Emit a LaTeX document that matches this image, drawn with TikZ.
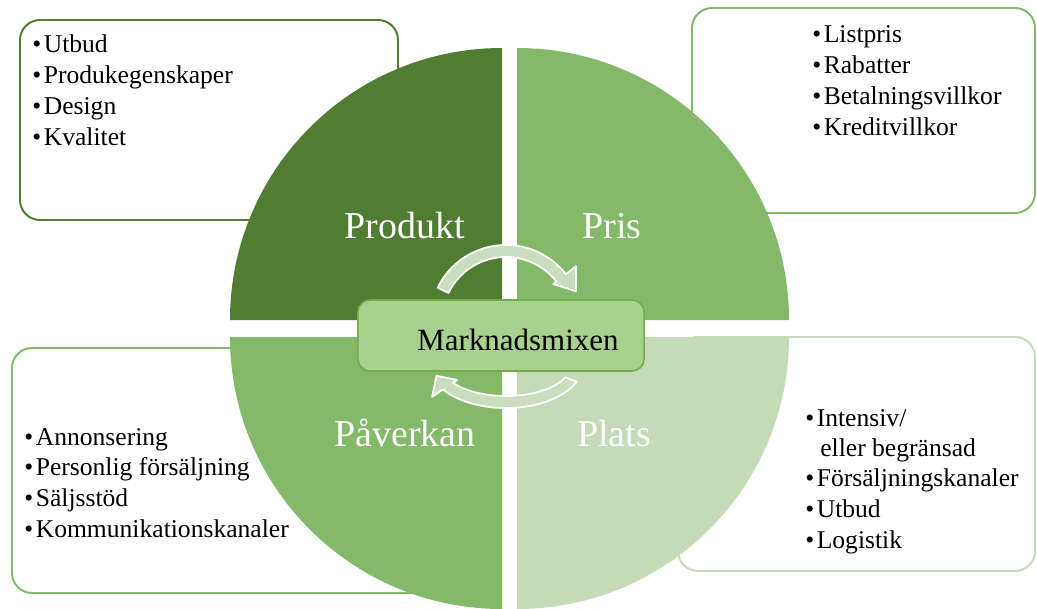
\documentclass[tikz,border=0pt]{standalone}
\usepackage{fontspec}
\setmainfont{Liberation Serif}
\usepackage{tikz}

\definecolor{prodgreen}{HTML}{507D32}
\definecolor{prisgreen}{HTML}{84B96A}
\definecolor{platsgreen}{HTML}{C5DBB8}
\definecolor{mixfill}{HTML}{A9D18E}
\definecolor{mixline}{HTML}{70AD47}
\definecolor{arrowfill}{HTML}{C8DEBC}

\newcommand{\bl}{\textbullet\hspace{0.1em}}

\begin{document}
\begin{tikzpicture}[x=0.025cm, y=0.025cm,
    listbox/.style={line width=1.4pt, rounded corners=0.5cm},
    item/.style={anchor=base west, inner sep=0pt, font=\fontsize{18.2}{21}\selectfont},
    quadlabel/.style={anchor=base, text=white, inner sep=0pt, font=\fontsize{27}{32}\selectfont},
    cyclearrow/.style={fill=arrowfill, draw=white, line width=1.3pt, line join=round}]
    \useasboundingbox (0,0) rectangle (1037,608);

    % List boxes, partly hidden by the circle
    \draw[listbox, draw=prodgreen] (20,388) rectangle (398,588);
    \draw[listbox, draw=prisgreen] (692,395) rectangle (1035,600);
    \draw[listbox, draw=prisgreen] (12,15) rectangle (440,260);
    \draw[listbox, draw=platsgreen] (678,37) rectangle (1035,271);

    % Four quarters of the circle
    \fill[prodgreen] (502,288) -- ++(-272,0) arc[start angle=180, end angle=90, radius=272] -- cycle;
    \fill[prisgreen] (517,288) -- ++(0,272) arc[start angle=90, end angle=0, radius=272] -- cycle;
    \fill[prisgreen] (502,271) -- ++(0,-272) arc[start angle=270, end angle=180, radius=272] -- cycle;
    \fill[platsgreen] (517,271) -- ++(272,0) arc[start angle=0, end angle=-90, radius=272] -- cycle;

    \node[quadlabel] (produkt) at (405,369.5) {Produkt};
    \node[quadlabel] (pris) at (612,369.5) {Pris};
    \node[quadlabel] (paverkan) at (405,162) {Påverkan};
    \node[quadlabel] (plats) at (614,162) {Plats};

    % Curved arrows round the centre
    \coordinate (ctop) at (506,287);
    \coordinate (cbot) at (506,242);
    \filldraw[cyclearrow] ([shift={(154:76)}]ctop) arc[start angle=154, end angle=38, radius=76]
        -- ([shift={(38:89)}]ctop) -- ([shift={(23:76)}]ctop) -- ([shift={(38:60)}]ctop)
        -- ([shift={(38:64)}]ctop) arc[start angle=38, end angle=154, radius=64] -- cycle;
    \filldraw[cyclearrow] ([shift={(-22:76 and 42)}]cbot) arc[start angle=-22, end angle=-146, x radius=76, y radius=42]
        -- ([shift={(-146:89 and 55)}]cbot) -- ([shift={(-165:72 and 38)}]cbot) -- ([shift={(-146:59 and 25)}]cbot)
        -- ([shift={(-146:64 and 30)}]cbot) arc[start angle=-146, end angle=-22, x radius=64, y radius=30] -- cycle;

    % Centre box
    \node[draw=mixline, fill=mixfill, line width=1.1pt, rounded corners=0.3cm,
          minimum width=7.15cm, minimum height=1.775cm, inner sep=0pt] (mix) at (501,272.5) {};
    \node[anchor=base, inner sep=0pt, font=\fontsize{22}{26}\selectfont] (mixlabel) at (518,258) {Marknadsmixen};

    % Lists
    \foreach \txt [count=\i] in {Utbud, Produkegenskaper, Design, Kvalitet}
        \node[item] (prod\i) at (32, {555-30.7*(\i-1)}) {\bl\txt};
    \foreach \txt [count=\i] in {Listpris, Rabatter, Betalningsvillkor, Kreditvillkor}
        \node[item] (pris\i) at (812, {565-30.7*(\i-1)}) {\bl\txt};
    \foreach \txt [count=\i] in {Annonsering, Personlig försäljning, Säljsstöd, Kommunikationskanaler}
        \node[item] (pav\i) at (24, {163-30.7*(\i-1)}) {\bl\txt};
    \node[item] (plats1) at (805,182) {\bl Intensiv/};
    \node[item] (plats2) at (820,152) {eller begränsad};
    \node[item] (plats3) at (805,122) {\bl Försäljningskanaler};
    \node[item] (plats4) at (805,91) {\bl Utbud};
    \node[item] (plats5) at (805,60) {\bl Logistik};
\end{tikzpicture}
\end{document}
